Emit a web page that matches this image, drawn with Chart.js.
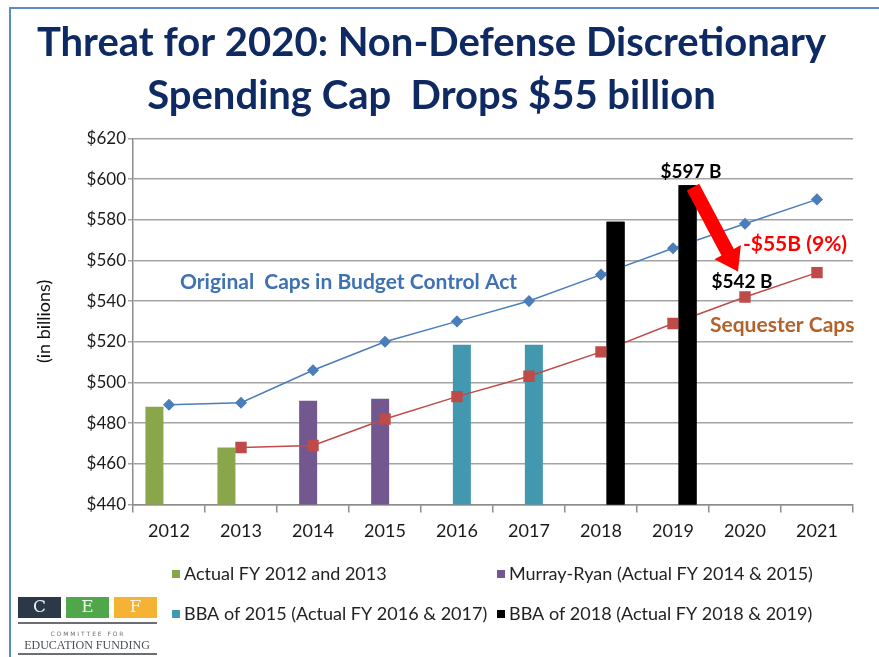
<!DOCTYPE html>
<html>
<head>
<meta charset="utf-8">
<title>Threat for 2020</title>
<script src="https://cdn.jsdelivr.net/npm/chart.js@4.4.1/dist/chart.umd.min.js"></script>
<style>
  html, body { margin: 0; padding: 0; background: #fff; }
  #wrap { width: 879px; height: 657px; position: relative; }
</style>
</head>
<body>
<div id="wrap"><canvas id="capChart"></canvas></div>
<script>
// fiscal years on the x axis
const years = ['2012', '2013', '2014', '2015', '2016', '2017', '2018', '2019', '2020', '2021'];

// y axis ticks (in billions)
const yTickValues = [440, 460, 480, 500, 520, 540, 560, 580, 600, 620];

// actual funding bars, one series per deal
const actual1213 = [488, 468, null, null, null, null, null, null, null, null];
const murrayRyan = [null, null, 491, 492, null, null, null, null, null, null];
const bba2015 = [null, null, null, null, 518.5, 518.5, null, null, null, null];
const bba2018 = [null, null, null, null, null, null, 579, 597, null, null];

// cap lines
const bcaCaps = [489, 490, 506, 520, 530, 540, 553, 566, 578, 590];
const sequesterCaps = [null, 468, 469, 482, 493, 503, 515, 529, 542, 554];

const FONT = 'Lato, "Open Sans", sans-serif';

function drawArrow(ctx, x1, y1, x2, y2, shaftW, headW, headL) {
    const ang = Math.atan2(y2 - y1, x2 - x1);
    const len = Math.hypot(x2 - x1, y2 - y1);
    ctx.save();
    ctx.translate(x1, y1);
    ctx.rotate(ang);
    ctx.beginPath();
    ctx.moveTo(0, -shaftW / 2);
    ctx.lineTo(len - headL, -shaftW / 2);
    ctx.lineTo(len - headL, -headW / 2);
    ctx.lineTo(len, 0);
    ctx.lineTo(len - headL, headW / 2);
    ctx.lineTo(len - headL, shaftW / 2);
    ctx.lineTo(0, shaftW / 2);
    ctx.closePath();
    ctx.fill();
    ctx.restore();
}

const slideDecor = {
    id: 'slideDecor',
    beforeDraw(chart) {
        const ctx = chart.ctx;
        ctx.save();
        ctx.fillStyle = '#fff';
        ctx.fillRect(0, 0, chart.width, chart.height);
        // slide frame
        ctx.strokeStyle = '#5b8bc8';
        ctx.lineWidth = 2;
        ctx.beginPath();
        ctx.moveTo(10, chart.height + 2);
        ctx.lineTo(10, 8);
        ctx.lineTo(chart.width + 2, 8);
        ctx.stroke();
        ctx.restore();
    },
    afterDatasetsDraw(chart) {
        const ctx = chart.ctx;
        const x = chart.scales.x, y = chart.scales.y;
        const ca = chart.chartArea;

        // the BBA 2018 bars sit in front of the cap lines
        ctx.save();
        ctx.beginPath();
        ctx.rect(ca.left, ca.top, ca.right - ca.left, ca.bottom - ca.top);
        ctx.clip();
        chart.getDatasetMeta(3).controller.draw();
        ctx.restore();

        ctx.save();
        ctx.textBaseline = 'middle';

        ctx.font = 'bold 21px ' + FONT;
        ctx.fillStyle = '#3f72b4';
        ctx.textAlign = 'left';
        ctx.fillText('Original  Caps in Budget Control Act', x.getPixelForValue(0) + 11, y.getPixelForValue(549.5));

        ctx.fillStyle = '#b4622c';
        ctx.fillText('Sequester Caps', x.getPixelForValue(8) - 35, y.getPixelForValue(528));

        ctx.fillStyle = '#ff0000';
        ctx.textAlign = 'center';
        ctx.fillText('-$55B (9%)', x.getPixelForValue(8) + 50, y.getPixelForValue(568));

        ctx.font = 'bold 19px ' + FONT;
        ctx.fillStyle = '#000';
        ctx.fillText('$597 B', x.getPixelForValue(7) + 18, y.getPixelForValue(597) - 13);
        ctx.fillText('$542 B', x.getPixelForValue(8) - 3, y.getPixelForValue(542) - 15);

        ctx.fillStyle = '#ff0000';
        drawArrow(ctx, x.getPixelForValue(7) + 20, y.getPixelForValue(597) + 2,
                  x.getPixelForValue(8) - 7, y.getPixelForValue(554.5), 14, 30, 22);
        ctx.restore();
    },
    afterDraw(chart) {
        const ctx = chart.ctx;
        ctx.save();

        // legend, two columns
        const slots = [[172, 574], [497, 574], [172, 614], [497, 614]];
        ctx.font = '18px ' + FONT;
        ctx.textBaseline = 'middle';
        ctx.textAlign = 'left';
        slots.forEach((s, i) => {
            const ds = chart.data.datasets[i];
            ctx.fillStyle = ds.backgroundColor;
            ctx.fillRect(s[0], s[1] - 4, 8, 8);
            ctx.fillStyle = '#222';
            ctx.fillText(ds.label, s[0] + 12, s[1]);
        });

        // CEF logo
        const boxes = [['C', '#2b3848', 18], ['E', '#4fa74a', 66], ['F', '#f6b333', 114]];
        ctx.textAlign = 'center';
        boxes.forEach(b => {
            ctx.fillStyle = b[1];
            ctx.fillRect(b[2], 597, 43, 21);
            ctx.fillStyle = '#eef0f0';
            ctx.font = '17px "DejaVu Serif", serif';
            ctx.fillText(b[0], b[2] + 21.5, 608);
        });
        ctx.fillStyle = '#6b6f74';
        ctx.fillRect(18, 622, 139, 2);
        ctx.fillRect(18, 653, 139, 2);
        ctx.font = '6px "DejaVu Sans", sans-serif';
        ctx.fillText('C O M M I T T E E   F O R', 87, 634);
        ctx.font = '12px "Liberation Serif", serif';
        ctx.fillStyle = '#4a4e54';
        ctx.fillText('EDUCATION FUNDING', 87, 646);
        ctx.restore();
    }
};

const barCommon = {
    type: 'bar',
    categoryPercentage: 0.54,
    barPercentage: 1.85,
    order: 2
};

new Chart(document.getElementById('capChart'), {
    data: {
        labels: years,
        datasets: [
            Object.assign({}, barCommon, { label: 'Actual FY 2012 and 2013', data: actual1213, backgroundColor: '#8aa64b' }),
            Object.assign({}, barCommon, { label: 'Murray-Ryan (Actual FY 2014 & 2015)', data: murrayRyan, backgroundColor: '#72588e' }),
            Object.assign({}, barCommon, { label: 'BBA of 2015 (Actual FY 2016 & 2017)', data: bba2015, backgroundColor: '#4298af' }),
            Object.assign({}, barCommon, { label: 'BBA of 2018 (Actual FY 2018 & 2019)', data: bba2018, backgroundColor: '#000000' }),
            {
                type: 'line',
                label: 'Original Caps in Budget Control Act',
                data: bcaCaps,
                borderColor: '#4a7ebb',
                backgroundColor: '#4a7ebb',
                borderWidth: 1.5,
                pointStyle: 'rectRot',
                pointRadius: 5,
                tension: 0,
                order: 1
            },
            {
                type: 'line',
                label: 'Sequester Caps',
                data: sequesterCaps,
                borderColor: '#be4b48',
                backgroundColor: '#be4b48',
                borderWidth: 1.5,
                pointStyle: 'rect',
                pointRadius: 7,
                tension: 0,
                order: 1
            }
        ]
    },
    options: {
        responsive: true,
        maintainAspectRatio: false,
        animation: false,
        layout: { padding: { left: 10, right: 26, top: 0, bottom: 107 } },
        plugins: {
            legend: { display: false },
            tooltip: { enabled: false },
            title: {
                display: true,
                text: ['Threat for 2020: Non-Defense Discretionary', 'Spending Cap  Drops $55 billion'],
                color: '#0f2a63',
                font: { family: FONT, size: 40, weight: 'bold', lineHeight: 1.33 },
                padding: { top: 16, bottom: 16 }
            }
        },
        scales: {
            x: {
                offset: true,
                grid: { offset: true, drawOnChartArea: false, drawTicks: true, tickLength: 8, color: '#8c8c8c', lineWidth: 1.5 },
                border: { color: '#8c8c8c', width: 1.5 },
                ticks: { color: '#1a1a1a', padding: 8, font: { family: FONT, size: 18 } }
            },
            y: {
                min: 440,
                max: 620,
                afterBuildTicks: s => { s.ticks = yTickValues.map(v => ({ value: v })); },
                afterFit: s => { s.width = 123; },
                grid: { color: '#a3a3a3', lineWidth: 1.5, tickLength: 5 },
                border: { color: '#8c8c8c', width: 1.5 },
                ticks: {
                    color: '#1a1a1a',
                    padding: 2,
                    font: { family: FONT, size: 17 },
                    callback: v => '$' + v
                },
                title: {
                    display: true,
                    text: '(in billions)',
                    color: '#111',
                    font: { family: FONT, size: 18 },
                    padding: { top: 23, bottom: 0 }
                }
            }
        }
    },
    plugins: [slideDecor]
});
</script>
</body>
</html>
